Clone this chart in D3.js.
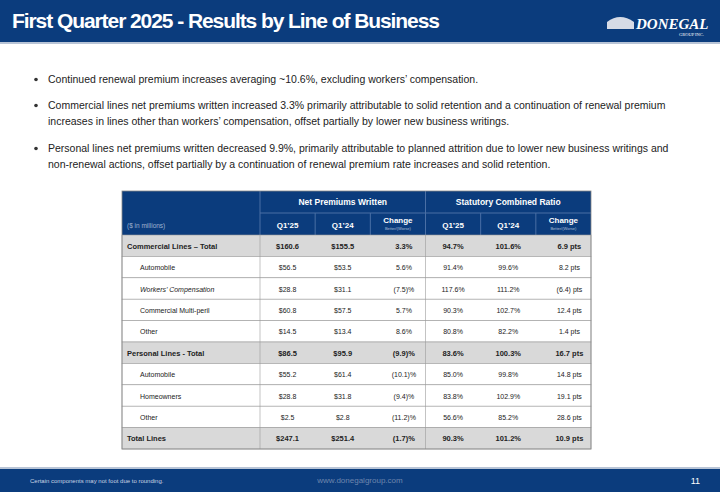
<!DOCTYPE html>
<html><head><meta charset="utf-8">
<script src="https://cdn.jsdelivr.net/npm/d3@7"></script>
<style>body{margin:0;background:#fff;font-family:"Liberation Sans Narrow","Liberation Sans",Arial,sans-serif}</style>
</head><body><div id="chart"></div>
<script>
'use strict';
const title = 'First Quarter 2025 - Results by Line of Business';
const bullets = [
  ['Continued renewal premium increases averaging ~10.6%, excluding workers\u2019 compensation.'],
  ['Commercial lines net premiums written increased 3.3% primarily attributable to solid retention and a continuation of renewal premium',
   'increases in lines other than workers\u2019 compensation, offset partially by lower new business writings.'],
  ['Personal lines net premiums written decreased 9.9%, primarily attributable to planned attrition due to lower new business writings  and',
   'non-renewal actions, offset partially by a continuation of renewal premium rate increases and solid retention.']
];
const groups = ['Net Premiums Written', 'Statutory Combined Ratio'];
const columns = ['Q1\u201925', 'Q1\u201924', 'Change', 'Q1\u201925', 'Q1\u201924', 'Change'];
const rowLabels = ['Commercial Lines \u2013 Total', 'Automobile', 'Workers\u2019 Compensation', 'Commercial Multi-peril', 'Other',
  'Personal Lines - Total', 'Automobile', 'Homeowners', 'Other', 'Total Lines'];
const totalRows = [0, 5, 9];
const npw25 = ['$160.6', '$56.5', '$28.8', '$60.8', '$14.5', '$86.5', '$55.2', '$28.8', '$2.5', '$247.1'];
const npw24 = ['$155.5', '$53.5', '$31.1', '$57.5', '$13.4', '$95.9', '$61.4', '$31.8', '$2.8', '$251.4'];
const npwChg = ['3.3%', '5.6%', '(7.5)%', '5.7%', '8.6%', '(9.9)%', '(10.1)%', '(9.4)%', '(11.2)%', '(1.7)%'];
const scr25 = ['94.7%', '91.4%', '117.6%', '90.3%', '80.8%', '83.6%', '85.0%', '83.8%', '56.6%', '90.3%'];
const scr24 = ['101.6%', '99.6%', '111.2%', '102.7%', '82.2%', '100.3%', '99.8%', '102.9%', '85.2%', '101.2%'];
const scrChg = ['6.9 pts', '8.2 pts', '(6.4) pts', '12.4 pts', '1.4 pts', '16.7 pts', '14.8 pts', '19.1 pts', '28.6 pts', '10.9 pts'];

const W = 720, H = 492, navy = '#0b3c7d';
const svg = d3.select('#chart').append('svg').attr('width', W).attr('height', H);

// header band
svg.append('rect').attr('width', W).attr('height', 42).attr('fill', navy);
svg.append('rect').attr('y', 42).attr('width', W).attr('height', 2).attr('fill', '#b8c4d6');
svg.append('text').attr('x', 12).attr('y', 28).attr('fill', '#fff').attr('font-size', 21)
  .attr('font-weight', 'bold').attr('font-family', 'Liberation Sans Narrow, sans-serif').attr('textLength', 428).text(title);
svg.append('path').attr('d', 'M607,29 L607,22 Q620,12 634,22 L634,29 Z').attr('fill', '#d6dbe6');
svg.append('text').attr('x', 636).attr('y', 29).attr('fill', '#fff').attr('font-size', 15)
  .attr('font-family', 'Liberation Serif, serif').attr('font-style', 'italic').attr('font-weight', 'bold').text('DONEGAL');
svg.append('text').attr('x', 704).attr('y', 36).attr('fill', '#fff').attr('font-size', 4.5)
  .attr('text-anchor', 'end').attr('font-family', 'Liberation Serif, serif').text('GROUP INC.');

// bullets
const by = [83, 109, 152];
bullets.forEach((b, i) => {
  svg.append('circle').attr('cx', 36).attr('cy', by[i] - 3.5).attr('r', 1.8).attr('fill', '#333');
  b.forEach((line, j) => {
    svg.append('text').attr('x', 48).attr('y', by[i] + j * 16).attr('font-size', 10.5).attr('fill', '#222')
      .text(line);
  });
});

// table
const tx0 = 122, tx1 = 591, labelW = 138;
const x = d3.scaleBand().domain(d3.range(columns.length)).range([tx0 + labelW, tx1]);
const y = d3.scaleBand().domain(d3.range(rowLabels.length)).range([235, 449]);
svg.append('rect').attr('x', tx0).attr('y', 191).attr('width', tx1 - tx0).attr('height', 44).attr('fill', navy);
groups.forEach((g, i) => {
  svg.append('text').attr('x', x(i * 3) + x.bandwidth() * 1.5).attr('y', 205).attr('text-anchor', 'middle')
    .attr('fill', '#fff').attr('font-size', 8.5).attr('font-weight', 'bold').text(g);
});
svg.append('line').attr('x1', x(0)).attr('x2', tx1).attr('y1', 213).attr('y2', 213).attr('stroke', '#4a6fa5');
d3.range(columns.length).forEach(i => {
  svg.append('line').attr('x1', x(i)).attr('x2', x(i)).attr('y1', i % 3 === 0 ? 191 : 213).attr('y2', 235)
    .attr('stroke', '#4a6fa5');
});
columns.forEach((c, i) => {
  const cx = x(i) + x.bandwidth() / 2;
  if (c === 'Change') {
    svg.append('text').attr('x', cx).attr('y', 223).attr('text-anchor', 'middle').attr('fill', '#fff')
      .attr('font-size', 8).attr('font-weight', 'bold').text(c);
    svg.append('text').attr('x', cx).attr('y', 230).attr('text-anchor', 'middle').attr('fill', '#aebfd8')
      .attr('font-size', 4).text('Better/(Worse)');
  } else {
    svg.append('text').attr('x', cx).attr('y', 228).attr('text-anchor', 'middle').attr('fill', '#fff')
      .attr('font-size', 8).attr('font-weight', 'bold').text(c);
  }
});
svg.append('text').attr('x', tx0 + 5).attr('y', 228).attr('fill', '#9fb3d1').attr('font-size', 6.5).text('($ in millions)');

const cols = [npw25, npw24, npwChg, scr25, scr24, scrChg];
rowLabels.forEach((lab, r) => {
  const tot = totalRows.includes(r);
  const ry = y(r);
  svg.append('rect').attr('x', tx0).attr('y', ry).attr('width', tx1 - tx0).attr('height', y.bandwidth())
    .attr('fill', tot ? '#d9d9d9' : '#fff').attr('stroke', '#9a9a9a').attr('stroke-width', 0.6);
  svg.append('text').attr('x', tx0 + (tot ? 5 : 18)).attr('y', ry + y.bandwidth() / 2 + 3)
    .attr('font-size', tot ? 7.5 : 7).attr('font-weight', tot ? 'bold' : 'normal')
    .attr('font-style', r === 2 ? 'italic' : 'normal').attr('fill', '#222').text(lab);
  cols.forEach((col, i) => {
    svg.append('text').attr('x', x(i) + x.bandwidth() / 2 + (i % 3 === 2 ? 6 : 0))
      .attr('y', ry + y.bandwidth() / 2 + 3).attr('text-anchor', 'middle')
      .attr('font-size', tot ? 7.5 : 7).attr('font-weight', tot ? 'bold' : 'normal').attr('fill', '#222')
      .text(col[r]);
  });
});
[x(0), x(3)].forEach(v => {
  svg.append('line').attr('x1', v).attr('x2', v).attr('y1', 235).attr('y2', 449).attr('stroke', '#9a9a9a').attr('stroke-width', 0.6);
});
svg.append('rect').attr('x', tx0).attr('y', 191).attr('width', tx1 - tx0).attr('height', 258)
  .attr('fill', 'none').attr('stroke', '#888').attr('stroke-width', 0.8);

// footer
svg.append('rect').attr('y', 467).attr('width', W).attr('height', 2).attr('fill', '#b8c4d6');
svg.append('rect').attr('y', 469).attr('width', W).attr('height', 23).attr('fill', navy);
svg.append('text').attr('x', 30).attr('y', 483).attr('fill', '#c9d3e3').attr('font-size', 6).text('Certain components may not foot due to rounding.');
svg.append('text').attr('x', 360).attr('y', 483).attr('fill', '#6d86ad').attr('font-size', 8).attr('text-anchor', 'middle').text('www.donegalgroup.com');
svg.append('text').attr('x', 700).attr('y', 484).attr('fill', '#fff').attr('font-size', 9).attr('text-anchor', 'end').text('11');
</script></body></html>
